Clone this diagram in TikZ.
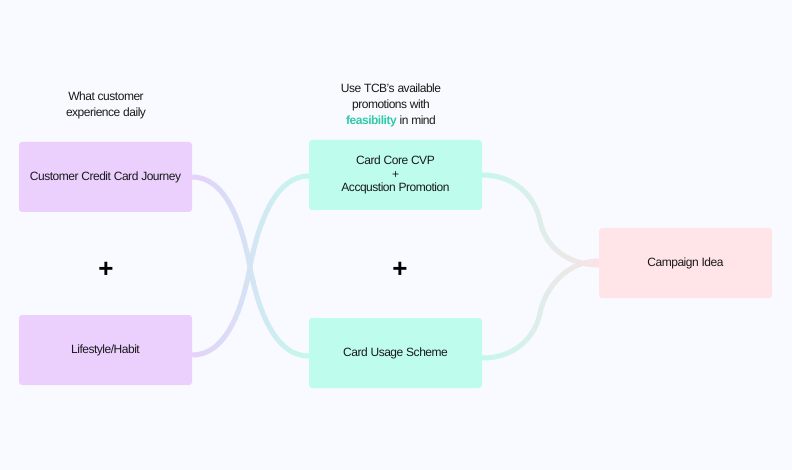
\documentclass[tikz,border=0pt]{standalone}
\usepackage{fontspec}
\setmainfont{Liberation Sans}[LetterSpace=-4]
\definecolor{bg}{HTML}{F9FAFF}
\definecolor{purpB}{HTML}{EBD0FE}
\definecolor{tealB}{HTML}{BEFDEE}
\definecolor{pinkB}{HTML}{FFE4E8}
\definecolor{purpL}{HTML}{E5D1FB}
\definecolor{tealL}{HTML}{C4F8EC}
\definecolor{pinkL}{HTML}{F9E3E6}
\definecolor{feas}{HTML}{2ECBA8}
\definecolor{ink}{HTML}{1A1A1A}
\tikzset{
  box/.style={rectangle, rounded corners=3pt, minimum width=173pt, minimum height=70pt,
    inner sep=0pt, align=center, text=ink, font=\fontsize{12}{13.5}\selectfont},
  note/.style={align=center, text=ink, inner sep=0pt, font=\fontsize{12}{16}\selectfont},
  plussign/.style={anchor=base, inner sep=0pt, text=black, font=\fontsize{26}{26}\selectfont\bfseries},
  conn/.style={line width=5pt, line cap=butt}
}
\begin{document}
\begin{tikzpicture}[x=1pt,y=-1pt]
\useasboundingbox (0,0) rectangle (792,470);
\fill[bg] (0,0) rectangle (792,470);

\node[box, fill=purpB] (b1) at (105.5,177) {Customer Credit Card Journey};
\node[box, fill=purpB] (b2) at (105.5,350) {Lifestyle/Habit};
\node[box, fill=tealB] (b3) at (395.5,175) {Card Core CVP\\+\\Accqustion Promotion};
\node[box, fill=tealB] (b4) at (395.5,353) {Card Usage Scheme};
\node[box, fill=pinkB] (b5) at (685.5,263) {Campaign Idea};

\node[note] (t1) at (106,105) {What customer\\experience daily};
\node[note] (t2) at (391,105) {Use TCB's available\\promotions with\\{\color{feas}\bfseries feasibility} in mind};

\node[plussign] (p1) at (106,277) {+};
\node[plussign] (p2) at (400,277) {+};

% connector end points and crossing / turning points
\coordinate (b1e) at ([yshift=0pt]b1.east);
\coordinate (b2e) at ([yshift=-5pt]b2.east);
\coordinate (b3w) at ([yshift=-1pt]b3.west);
\coordinate (b4w) at ([yshift=-3pt]b4.west);
\coordinate (b3e) at (b3.east);
\coordinate (b4e) at ([yshift=-5pt]b4.east);
\coordinate (b5a) at ([yshift=-2pt]b5.west);
\coordinate (b5b) at ([yshift=2pt]b5.west);
\coordinate (xl) at (250,267);
\coordinate (rt) at (540,221);
\coordinate (rb) at (540,313);

\foreach \i in {0,...,38} {
  \pgfmathsetmacro\p{100*\i/38}
  \begin{scope}
    \clip (192+\i*3,0) rectangle ++(3.4,470);
    \draw[conn, draw=tealL!\p!purpL] (b1e) .. controls +(32,0) and +(-9,-48) .. (xl)
       .. controls +(9,48) and +(-32,0) .. (b4w);
    \draw[conn, draw=tealL!\p!purpL] (b2e) .. controls +(32,0) and +(-9,48) .. (xl)
       .. controls +(9,-48) and +(-32,0) .. (b3w);
  \end{scope}
  \begin{scope}
    \clip (482+\i*3,0) rectangle ++(3.4,470);
    \draw[conn, draw=pinkL!\p!tealL] (b3e) .. controls +(32,0) and +(-5,-25) .. (rt)
       .. controls +(5,25) and +(-32,0) .. (b5a);
    \draw[conn, draw=pinkL!\p!tealL] (b4e) .. controls +(32,0) and +(-5,25) .. (rb)
       .. controls +(5,-25) and +(-32,0) .. (b5b);
  \end{scope}
}
\end{tikzpicture}
\end{document}
